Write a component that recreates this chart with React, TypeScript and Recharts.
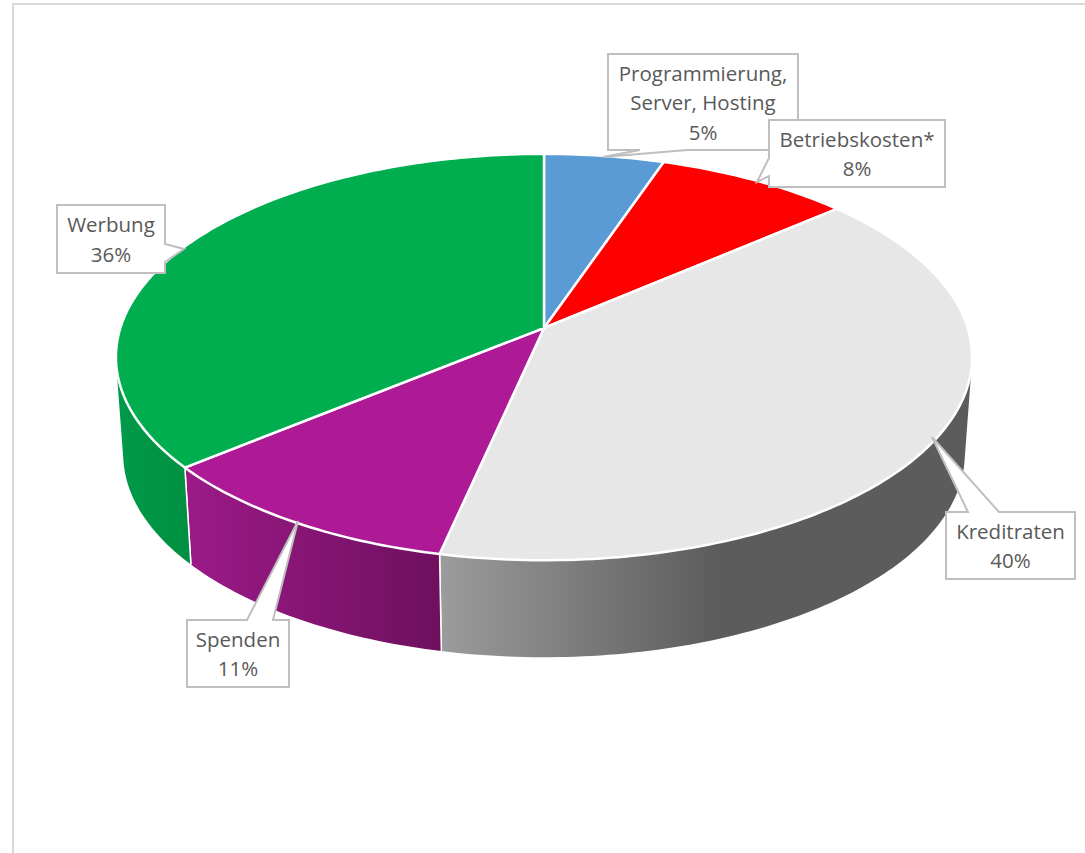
import React from 'react'
import { PieChart, Pie } from 'recharts'

const categories = ['Programmierung,\nServer, Hosting', 'Betriebskosten*', 'Kreditraten', 'Spenden', 'Werbung']
const shares = [5.2, 8.45, 39.75, 10.6, 36.0]
const topColors = ['#5b9bd5', '#ff0000', '#e7e7e7', '#ae1a96', '#00ae4f']
const wallIds = ['wallBlue', 'wallRed', 'wallGrey', 'wallPurple', 'wallGreen']

// callout boxes: [left, top, right, bottom], pointer: base point, tip, base point
const boxes = [
  [608, 54, 798, 150],
  [769, 120, 945, 187],
  [946, 512, 1075, 579],
  [187, 620, 289, 687],
  [57, 205, 165, 273],
]
const pointers = [
  { side: 'bottom', a: 640, b: 687, tip: [603, 157] },
  { side: 'left', a: 158, b: 176, tip: [757, 182] },
  { side: 'top', a: 968, b: 999, tip: [932, 437] },
  { side: 'top', a: 247, b: 273, tip: [298, 521] },
  { side: 'right', a: 244, b: 262, tip: [184, 249] },
]

const tableTop = categories.map((name, i) => ({ name, value: shares[i], fill: topColors[i] }))
const tableWall = categories.map((name, i) => ({ name, value: shares[i], fill: `url(#${wallIds[i]})` }))
const total = shares.reduce((s, v) => s + v, 0)

// the pie lies tilted: a circle is projected so the far side gets smaller
const TILT = -0.143
const WIDEN = 2.129

function project(cx: number, cy: number, r: number, deg: number) {
  const t = (deg * Math.PI) / 180
  const u = Math.cos(t)
  const v = -Math.sin(t)
  const d = 1 + TILT * v
  return [cx + (r * WIDEN * u) / d, cy + (r * v) / d]
}

function arcPoints(props: any) {
  const { cx, cy, outerRadius, startAngle, endAngle } = props
  const n = Math.max(2, Math.ceil(Math.abs(endAngle - startAngle)))
  const pts: number[][] = []
  for (let i = 0; i <= n; i++) {
    pts.push(project(cx, cy, outerRadius, startAngle + ((endAngle - startAngle) * i) / n))
  }
  return pts
}

function TopFace(props: any) {
  const pts = arcPoints(props)
  const d = `M${props.cx},${props.cy} ` + pts.map((p) => `L${p[0]},${p[1]}`).join(' ') + ' Z'
  return <path d={d} fill={props.fill} stroke="#ffffff" strokeWidth={2.5} strokeLinejoin="round" />
}

// side wall: one quad per step so the silhouette at the far left and right is filled too
function Wall(props: any) {
  const pts = arcPoints(props)
  const { cx, cy } = props
  const low = pts.map((p) => [cx + (p[0] - cx) * 0.983, p[1] + 97])
  let d = ''
  for (let i = 0; i < pts.length - 1; i++) {
    const q = [pts[i], pts[i + 1], low[i + 1], low[i]]
    let area = 0
    q.forEach((a, k) => {
      const b = q[(k + 1) % 4]
      area += a[0] * b[1] - b[0] * a[1]
    })
    const ordered = area < 0 ? [...q].reverse() : q
    d += 'M' + ordered.map((p) => `${p[0]},${p[1]}`).join(' L') + ' Z '
  }
  const last = pts.length - 1
  return (
    <g>
      <path d={d} fill={props.fill} stroke="none" />
      <line x1={pts[0][0]} y1={pts[0][1]} x2={low[0][0]} y2={low[0][1]} stroke="#ffffff" strokeWidth={1.5} />
      <line x1={pts[last][0]} y1={pts[last][1]} x2={low[last][0]} y2={low[last][1]} stroke="#ffffff" strokeWidth={1.5} />
    </g>
  )
}

function Callout(props: any) {
  const i = props.index
  const [l, t, r, b] = boxes[i]
  const p = pointers[i]
  const tip = `${p.tip[0]},${p.tip[1]}`
  let pts = ''
  if (p.side === 'top') pts = `${l},${t} ${p.a},${t} ${tip} ${p.b},${t} ${r},${t} ${r},${b} ${l},${b}`
  if (p.side === 'bottom') pts = `${l},${t} ${r},${t} ${r},${b} ${p.b},${b} ${tip} ${p.a},${b} ${l},${b}`
  if (p.side === 'left') pts = `${l},${t} ${r},${t} ${r},${b} ${l},${b} ${l},${p.b} ${tip} ${l},${p.a}`
  if (p.side === 'right') pts = `${l},${t} ${r},${t} ${r},${p.a} ${tip} ${r},${p.b} ${r},${b} ${l},${b}`
  const lines = [...categories[i].split('\n'), `${Math.round((shares[i] / total) * 100)}%`]
  const lineH = 29.5
  const mid = (t + b) / 2
  return (
    <g>
      <polygon points={pts} fill="#ffffff" stroke="#bfbfbf" strokeWidth={2} />
      <text x={(l + r) / 2} textAnchor="middle" fontFamily="'Open Sans', sans-serif" fontSize={20.5} fill="#595959">
        {lines.map((line, k) => (
          <tspan key={k} x={(l + r) / 2} y={mid + (k - (lines.length - 1) / 2) * lineH + 8}>
            {line}
          </tspan>
        ))}
      </text>
    </g>
  )
}

export default function App() {
  return (
    <div style={{ position: 'absolute', left: 0, top: 0, width: 1085, height: 853, background: '#fff', overflow: 'hidden' }}>
      <div style={{ position: 'absolute', left: 12, top: 3, width: 1073, height: 850, borderLeft: '2px solid #d9d9d9', borderTop: '2px solid #d9d9d9', boxSizing: 'border-box' }} />
      <PieChart width={1085} height={853} margin={{ top: 0, right: 0, bottom: 0, left: 0 }} style={{ position: 'absolute', left: 0, top: 0 }}>
        <defs>
          <linearGradient id="wallBlue"><stop offset="0" stopColor="#4a7fb0" /></linearGradient>
          <linearGradient id="wallRed"><stop offset="0" stopColor="#c00000" /></linearGradient>
          <linearGradient id="wallGrey" x1="0" x2="1" y1="0" y2="0">
            <stop offset="0" stopColor="#9c9c9c" />
            <stop offset="0.52" stopColor="#5c5c5c" />
            <stop offset="1" stopColor="#5c5c5c" />
          </linearGradient>
          <linearGradient id="wallPurple" x1="0" x2="1" y1="0" y2="0">
            <stop offset="0" stopColor="#9c1a88" />
            <stop offset="1" stopColor="#6e105e" />
          </linearGradient>
          <linearGradient id="wallGreen" x1="0" x2="1" y1="0" y2="0">
            <stop offset="0" stopColor="#009a4a" />
            <stop offset="0.18" stopColor="#008f40" />
            <stop offset="1" stopColor="#008f40" />
          </linearGradient>
        </defs>
        <Pie
          data={tableWall}
          dataKey="value"
          nameKey="name"
          cx={544}
          cy={328}
          outerRadius={199}
          startAngle={90}
          endAngle={-270}
          isAnimationActive={false}
          shape={Wall}
        />
        <Pie
          data={tableTop}
          dataKey="value"
          nameKey="name"
          cx={544}
          cy={328}
          outerRadius={199}
          startAngle={90}
          endAngle={-270}
          isAnimationActive={false}
          shape={TopFace}
          label={Callout}
          labelLine={false}
        />
      </PieChart>
    </div>
  )
}
